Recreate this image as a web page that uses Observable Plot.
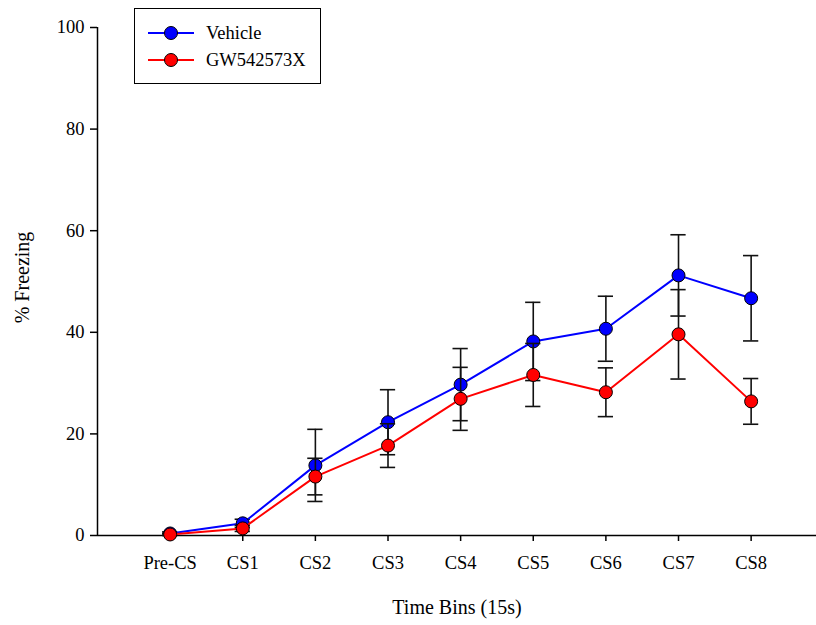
<!DOCTYPE html>
<html>
<head>
<meta charset="utf-8">
<script src="https://cdn.jsdelivr.net/npm/d3@7"></script>
<script src="https://cdn.jsdelivr.net/npm/@observablehq/plot@0.6"></script>
<style>
  html, body { margin: 0; padding: 0; background: #fff; }
  #chart { position: relative; width: 816px; height: 625px; }
  #chart svg text { font-family: "Liberation Serif", "Times New Roman", "DejaVu Serif", serif; }
  #legend {
    position: absolute; left: 134px; top: 8px; width: 187px; height: 76px;
    border: 1.5px solid #000; box-sizing: border-box; background: #fff;
    font-family: "Liberation Serif", "Times New Roman", "DejaVu Serif", serif; font-size: 18.5px; color: #000;
  }
  #legend .row { position: absolute; left: 13px; height: 20px; display: flex; align-items: center; }
  #legend svg { display: block; margin-right: 12px; }
</style>
</head>
<body>
<div id="chart"><div id="legend"></div></div>
<script>
// Time bins on the x axis
const categories = ["Pre-CS", "CS1", "CS2", "CS3", "CS4", "CS5", "CS6", "CS7", "CS8"];

// Mean % freezing and SEM per time bin
const vehicleMean = [0.4, 2.4, 13.8, 22.3, 29.7, 38.2, 40.7, 51.2, 46.7];
const vehicleSem  = [0.3, 0.8, 7.1, 6.4, 7.1, 7.7, 6.4, 8.0, 8.4];
const gwMean      = [0.2, 1.4, 11.6, 17.7, 26.9, 31.6, 28.2, 39.6, 26.4];
const gwSem       = [0.2, 0.6, 3.6, 4.3, 6.2, 6.2, 4.8, 8.8, 4.5];

const seriesNames  = ["Vehicle", "GW542573X"];
const seriesColors = ["#0000ff", "#ff0000"];
const yTicks = [0, 20, 40, 60, 80, 100];

const rows = (name, means, sems) =>
  means.map((m, i) => ({series: name, i, mean: m, sem: sems[i]}));
const vehicle = rows(seriesNames[0], vehicleMean, vehicleSem);
const gw = rows(seriesNames[1], gwMean, gwSem);

const capHalf = 0.105; // half-width of error-bar caps, in bin units

function seriesMarks(data, color) {
  return [
    Plot.ruleX(data, {x: "i", y1: d => d.mean - d.sem, y2: d => d.mean + d.sem, stroke: "#111", strokeWidth: 1.6}),
    Plot.ruleY(data, {y: d => d.mean + d.sem, x1: d => d.i - capHalf, x2: d => d.i + capHalf, stroke: "#111", strokeWidth: 1.6}),
    Plot.ruleY(data, {y: d => d.mean - d.sem, x1: d => d.i - capHalf, x2: d => d.i + capHalf, stroke: "#111", strokeWidth: 1.6}),
    Plot.line(data, {x: "i", y: "mean", stroke: color, strokeWidth: 2}),
    Plot.dot(data, {x: "i", y: "mean", r: 6.5, fill: color, stroke: "#000", strokeWidth: 1})
  ];
}

const serif = '"Liberation Serif", "Times New Roman", "DejaVu Serif", serif';

const chart = Plot.plot({
  width: 816,
  height: 625,
  marginTop: 27,
  marginBottom: 90,
  marginLeft: 97,
  marginRight: 0,
  style: {fontFamily: serif, fontSize: "18.5px", color: "#000", background: "#fff", overflow: "visible"},
  x: {type: "linear", domain: [-1, 8.9]},
  y: {domain: [0, 100]},
  marks: [
    Plot.axisX({ticks: d3.range(categories.length), tickFormat: i => categories[i], tickSize: 6, tickPadding: 14, strokeWidth: 1.5, label: null}),
    Plot.axisY({ticks: yTicks, tickSize: 7, tickPadding: 6, strokeWidth: 1.5, label: null}),
    Plot.ruleY([0], {stroke: "#000", strokeWidth: 1.5}),
    Plot.ruleX([-1], {stroke: "#000", strokeWidth: 1.5}),
    Plot.text(["Time Bins (15s)"], {text: d => d, frameAnchor: "bottom", lineAnchor: "middle", dy: 72, fontSize: 20}),
    Plot.text(["% Freezing"], {text: d => d, frameAnchor: "left", textAnchor: "middle", lineAnchor: "middle", dx: -75, dy: -4, rotate: -90, fontSize: 20}),
    ...seriesMarks(vehicle, seriesColors[0]),
    ...seriesMarks(gw, seriesColors[1])
  ]
});

document.getElementById("chart").prepend(chart);

// Legend box
const legend = d3.select("#legend");
seriesNames.forEach((name, k) => {
  const row = legend.append("div").attr("class", "row").style("top", `${14 + k * 27}px`);
  const svg = row.append("svg").attr("width", 46).attr("height", 16);
  svg.append("line").attr("x1", 0).attr("x2", 46).attr("y1", 8).attr("y2", 8)
    .attr("stroke", seriesColors[k]).attr("stroke-width", 2);
  svg.append("circle").attr("cx", 23).attr("cy", 8).attr("r", 6.5)
    .attr("fill", seriesColors[k]).attr("stroke", "#000").attr("stroke-width", 1);
  row.append("span").text(name);
});
</script>
</body>
</html>
